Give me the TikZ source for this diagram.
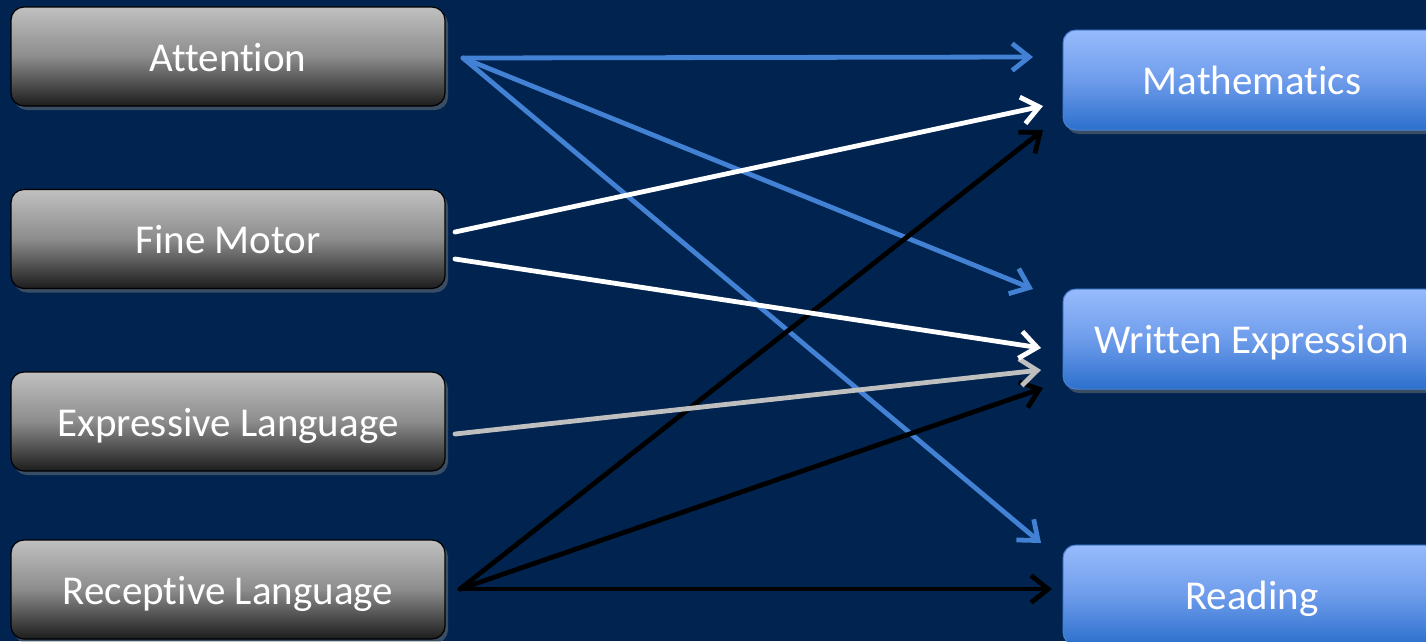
\documentclass[tikz,border=0pt]{standalone}
\usepackage{fontspec}
\setmainfont[Ligatures={NoCommon}]{Carlito}
\usetikzlibrary{arrows.meta,shadows}
\definecolor{bgnavy}{HTML}{00244F}
\definecolor{grayTop}{HTML}{C0C0C0}
\definecolor{grayMid}{HTML}{8C8C8C}
\definecolor{grayBot}{HTML}{1C1C1C}
\definecolor{blueTop}{HTML}{97BBFC}
\definecolor{blueMid}{HTML}{6E9CEB}
\definecolor{blueBot}{HTML}{2C70CD}
\definecolor{blueEdge}{HTML}{4A80D2}
\definecolor{linkBlue}{HTML}{4281D3}
\definecolor{linkGray}{HTML}{BFBFBF}
\tikzset{
  boxtext/.style={text=white, font=\fontsize{41}{48}\selectfont, inner sep=0pt,
    text height=29pt, text depth=0pt},
  skill/.style={boxtext, rounded corners=13pt, minimum width=434pt, minimum height=99pt,
    draw=black, line width=1.2pt, top color=grayTop, bottom color=grayBot, middle color=grayMid,
    drop shadow={shadow xshift=3pt, shadow yshift=-4pt, opacity=0.45}},
  area/.style={boxtext, rounded corners=13pt, minimum width=378pt, minimum height=100pt,
    draw=blueEdge, line width=1pt, top color=blueTop, bottom color=blueBot, middle color=blueMid,
    drop shadow={shadow xshift=3pt, shadow yshift=-4pt, opacity=0.45}},
  link/.style={line width=4.8pt, line cap=round, line join=round,
    -{Straight Barb[length=17pt, width=27pt, line width=4.8pt]}},
}
\begin{document}
\begin{tikzpicture}[x=1pt, y=-1pt]
  \fill[bgnavy] (0,0) rectangle (1426,641);
  \useasboundingbox (0,0) rectangle (1426,641);

  % skills on the left
  \node[skill] (att) at (228,56.5) {Attention};
  \node[skill] (fine) at (228,239) {Fine Motor};
  \node[skill] (expr) at (228,421.5) {Expressive Language};
  \node[skill] (recp) at (228,589.5) {Receptive Language};

  % academic areas on the right
  \node[area] (math) at (1252,80) {Mathematics};
  \node[area] (writ) at (1252,339) {Written Expression};
  \node[area] (read) at (1252,595) {Reading};

  % connector start points
  \coordinate (attOut) at (463,58);
  \coordinate (fineOutA) at (455,232);
  \coordinate (fineOutB) at (455,259);
  \coordinate (exprOut) at (455,434);
  \coordinate (recpOut) at (460,589);

  % connector end points
  \coordinate (mathA) at (1033,57);
  \coordinate (mathB) at (1043,106);
  \coordinate (mathC) at (1043,130);
  \coordinate (writA) at (1033,289);
  \coordinate (writB) at (1041,348);
  \coordinate (writC) at (1041,370);
  \coordinate (writD) at (1043,388);
  \coordinate (readA) at (1041,543);
  \coordinate (readB) at (1052,589);

  % attention links
  \draw[link, linkBlue] (attOut) -- (mathA);
  \draw[link, linkBlue] (attOut) -- (writA);
  \draw[link, linkBlue] (attOut) -- (readA);

  % receptive language links
  \draw[link, black] (recpOut) -- (mathC);
  \draw[link, black] (recpOut) -- (writD);
  \draw[link, black] (recpOut) -- (readB);

  % expressive language link
  \draw[link, linkGray] (exprOut) -- (writC);

  % fine motor links
  \draw[link, white] (fineOutA) -- (mathB);
  \draw[link, white] (fineOutB) -- (writB);
\end{tikzpicture}
\end{document}
